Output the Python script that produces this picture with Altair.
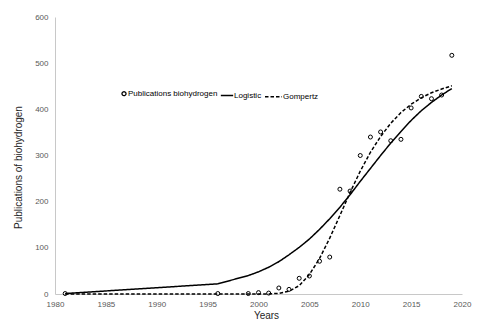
import altair as alt
import pandas as pd

# ---- data ----
years = [1981, 1996, 1999, 2000, 2001, 2002, 2003, 2004, 2005, 2006, 2007, 2008,
         2009, 2010, 2011, 2012, 2013, 2014, 2015, 2016, 2017, 2018, 2019]
publications = [1, 1, 1, 3, 2, 13, 10, 34, 39, 71, 80, 227,
                 223, 300, 340, 351, 332, 335, 403, 428, 423, 431, 517]
logistic = [1, 22, 40, 48, 58, 70, 85, 101, 119, 140, 163, 188,
            215, 244, 272, 300, 327, 352, 376, 397, 415, 431, 445]
gompertz = [0, 0, 0, 0, 0.2, 1.5, 6, 18, 42, 77, 121, 170,
            220, 266, 307, 341, 370, 393, 411, 425, 436, 444, 451]

series_names = ["Publications biohydrogen", "Logistic", "Gompertz"]
x_ticks = [1980, 1985, 1990, 1995, 2000, 2005, 2010, 2015, 2020]
y_ticks = [0, 100, 200, 300, 400, 500, 600]

df_pts = pd.DataFrame({"Year": years, "Value": publications, "Series": series_names[0]})
df_lines = pd.concat([
    pd.DataFrame({"Year": years, "Value": logistic, "Series": series_names[1]}),
    pd.DataFrame({"Year": years, "Value": gompertz, "Series": series_names[2]}),
])

legend = alt.Legend(
    title=None, orient="none", direction="horizontal",
    legendX=65, legendY=70, padding=0, columnPadding=0, labelOffset=0,
    labelFont="Liberation Sans", labelFontSize=8, labelColor="black",
    symbolStrokeColor="black", symbolFillColor="white", symbolStrokeWidth=1.3,
)

x_enc = alt.X("Year:Q",
              scale=alt.Scale(domain=[1980, 2020], nice=False, zero=False),
              axis=alt.Axis(values=x_ticks, format="d", title="Years", labelFlush=False,
                            titleX=211, titleY=21, titleBaseline="middle"))
y_enc = alt.Y("Value:Q",
              scale=alt.Scale(domain=[0, 600], nice=False),
              axis=alt.Axis(values=y_ticks, title="Publications of biohydrogen",
                            titleX=-37, titleY=150, titleBaseline="middle"))

points = alt.Chart(df_pts).mark_point(
    filled=False, color="black", strokeWidth=1, opacity=1
).encode(
    x=x_enc, y=y_enc,
    shape=alt.Shape("Series:N", scale=alt.Scale(domain=series_names,
                                                range=["circle", "stroke", "stroke"]),
                    legend=legend),
    size=alt.Size("Series:N", scale=alt.Scale(domain=series_names, range=[16, 289, 289]),
                  legend=legend),
)

lines = alt.Chart(df_lines).mark_line(color="black", strokeWidth=1.5).encode(
    x=x_enc, y=y_enc,
    strokeDash=alt.StrokeDash("Series:N",
                              scale=alt.Scale(domain=series_names,
                                              range=[[1, 0], [1, 0], [3.5, 2]]),
                              legend=legend),
)

chart = alt.layer(lines, points).properties(
    width=407, height=277,
    autosize=alt.AutoSizeParams(type="none"),
    padding={"left": 47, "top": 9, "right": 10, "bottom": 25},
    background="white",
).configure_view(stroke=None).configure_axis(
    grid=False, ticks=False, domainColor="#c8c8c8", domainWidth=1,
    labelFont="Liberation Sans", labelFontSize=8, labelColor="#595959",
    titleFont="Liberation Sans", titleFontSize=10, titleFontWeight="normal",
    titleColor="#262626", labelPadding=6,
).configure_axisY(labelPadding=7)

chart.save("out.html", embed_options={"renderer": "svg", "actions": False})
